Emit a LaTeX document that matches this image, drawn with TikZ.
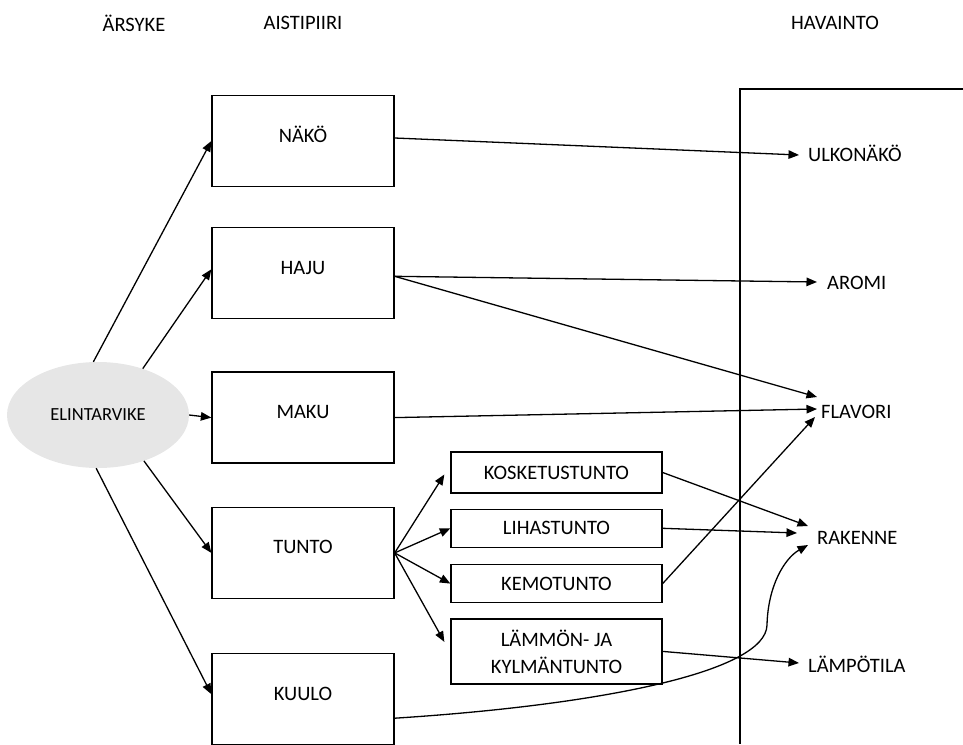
\documentclass[tikz,border=0pt]{standalone}
\usepackage{fontspec}
\setmainfont{Carlito}
\definecolor{foodGray}{HTML}{E6E6E6}
\usetikzlibrary{arrows.meta, positioning, shapes.geometric}

\begin{document}
\begin{tikzpicture}[x=1pt, y=-1pt,
  boxbase/.style={draw, line width=1.3pt, inner sep=0pt, align=center, font=\fontsize{20.5}{27}\selectfont},
  sense/.style={boxbase, minimum width=182pt, minimum height=91pt, text height=13pt, text depth=11pt},
  subsense/.style={boxbase, minimum width=211pt, minimum height=38pt, text height=13pt, text depth=0pt},
  outlab/.style={anchor=west, inner sep=0pt, font=\fontsize{20.5}{27}\selectfont, text height=13pt, text depth=0pt},
  head/.style={inner sep=0pt, font=\fontsize{20.5}{27}\selectfont},
  arr/.style={-{Triangle[length=10.5pt, width=8.5pt]}, line width=1.3pt},
]
  \useasboundingbox (0,0) rectangle (963,744);

  % column headings
  \node[head] (arsyke) at (134,23) {ÄRSYKE};
  \node[head] (aisti) at (303,23) {AISTIPIIRI};
  \node[head] (havainto) at (835,23) {HAVAINTO};

  % stimulus
  \node[ellipse, fill=foodGray, minimum width=182pt, minimum height=106pt, inner sep=0pt, font=\fontsize{18.5}{22}\selectfont] (food) at (98,415) {ELINTARVIKE};

  % senses
  \node[sense] (nako) at (303,141) {NÄKÖ};
  \node[sense, below=40pt of nako] (haju) {HAJU};
  \node[sense, below=52pt of haju] (maku) {MAKU};
  \node[sense, below=43pt of maku] (tunto) {TUNTO};
  \node[sense, below=54pt of tunto] (kuulo) {KUULO};

  \node[subsense, minimum height=41pt] (kosketus) at (556.5,472.5) {KOSKETUSTUNTO};
  \node[subsense, below=15pt of kosketus] (lihas) {LIHASTUNTO};
  \node[subsense, below=16pt of lihas] (kemo) {KEMOTUNTO};
  \node[boxbase, below=15pt of kemo, minimum width=211pt, minimum height=65pt] (lammon) {LÄMMÖN- JA\\KYLMÄNTUNTO};

  % perception frame
  \draw[line width=1.3pt] (963,89) -- (740,89) -- (740,744);

  \node[outlab] (ulko) at (808,155) {ULKONÄKÖ};
  \node[outlab] (aromi) at (827,283) {AROMI};
  \node[outlab] (flavori) at (821,412) {FLAVORI};
  \node[outlab] (rakenne) at (817,538) {RAKENNE};
  \node[outlab] (lampo) at (808,666) {LÄMPÖTILA};

  % stimulus to senses
  \draw[arr] (food.95) -- (nako.west);
  \draw[arr] (food.46) -- ([yshift=4pt]haju.west);
  \draw[arr] (food.east) -- (maku.west);
  \draw[arr] (food.-45) -- (tunto.west);
  \draw[arr] (food.-92) -- ([yshift=5pt]kuulo.west);

  \draw[arr] (tunto.east) -- ([xshift=-6pt,yshift=-2pt]kosketus.west);
  \draw[arr] (tunto.east) -- (lihas.west);
  \draw[arr] (tunto.east) -- (kemo.west);
  \draw[arr] (tunto.east) -- ([xshift=-6pt,yshift=9.5pt]lammon.west);

  % senses to perceptions
  \draw[arr] ([yshift=3pt]nako.east) -- ([xshift=-9pt]ulko.west);
  \draw[arr] ([yshift=-3pt]haju.east) -- ([xshift=-10pt,yshift=1pt]aromi.west);
  \draw[arr] ([yshift=-3pt]haju.east) -- ([xshift=-4pt,yshift=15pt]flavori.west);
  \draw[arr] (maku.east) -- ([xshift=-4pt,yshift=3pt]flavori.west);
  \draw[arr] (kemo.east) -- ([xshift=-6pt,yshift=-5pt]flavori.west);
  \draw[arr] (kosketus.east) -- ([xshift=-9pt,yshift=12pt]rakenne.west);
  \draw[arr] (lihas.east) -- ([xshift=-20pt,yshift=5pt]rakenne.west);
  \draw[arr] (lammon.east) -- ([xshift=-9pt,yshift=3pt]lampo.west);
  \draw[arr] ([yshift=-19pt]kuulo.east) .. controls (600,705) and (766,672) .. (767,625)
    .. controls (768,585) and (785,558) .. ([xshift=-9pt,yshift=-7pt]rakenne.west);
\end{tikzpicture}
\end{document}
